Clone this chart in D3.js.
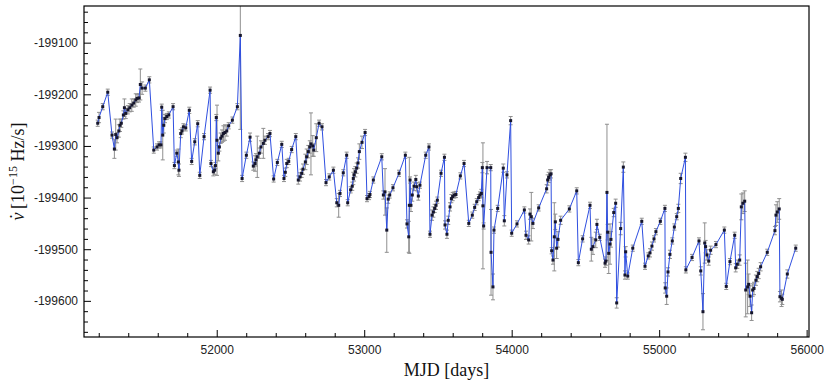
<!DOCTYPE html>
<html>
<head>
<meta charset="utf-8">
<script src="https://cdn.jsdelivr.net/npm/d3@7"></script>
<style>
    body { margin: 0; background: #fff; }
    .axis text { font-family: "Liberation Sans", Arial, sans-serif; font-size: 12px; fill: #222; }
    .axis line { stroke: #000; }
    .axis path { display: none; }
    .axis-title { font-family: "Liberation Serif", "DejaVu Serif", serif; fill: #111; }
</style>
</head>
<body>
<div id="chart"></div>
<script>

// MJD of each timing solution
var mjd = [51193,51202,51227,51261,51290,51306,51315,51324,51336,51344,51353,51367,51374,51383,51397,51410,51424,51437,51451,51460,
    51473,51482,51494,51516,51543,51573,51595,51609,51622,51627,51634,51641,51649,51661,51675,51704,51713,51729,51740,51744,
    51756,51765,51774,51790,51814,51830,51851,51871,51885,51914,51955,51961,51977,51986,51991,51997,52002,52011,52018,52027,
    52036,52045,52056,52068,52081,52106,52140,52160,52172,52201,52226,52248,52260,52266,52275,52289,52300,52316,52327,52348,
    52361,52386,52411,52441,52456,52465,52475,52488,52508,52536,52553,52565,52576,52585,52601,52610,52621,52631,52639,52651,
    52658,52675,52694,52714,52741,52763,52791,52814,52827,52836,52858,52881,52888,52908,52919,52926,52931,52940,52949,52958,
    52967,52985,53006,53019,53033,53039,53062,53119,53130,53141,53153,53163,53173,53195,53236,53279,53290,53302,53306,53311,
    53317,53326,53338,53350,53356,53367,53378,53417,53439,53446,53460,53469,53478,53487,53496,53521,53544,53548,53561,53570,
    53582,53591,53600,53611,53622,53652,53677,53709,53733,53749,53763,53776,53785,53794,53801,53805,53810,53833,53858,53860,
    53873,53880,53905,53943,53950,53968,53993,54000,54036,54086,54097,54115,54124,54133,54144,54183,54237,54244,54251,54260,
    54267,54271,54280,54289,54296,54305,54314,54332,54391,54441,54452,54481,54531,54540,54551,54570,54578,54597,54633,54639,
    54646,54651,54658,54667,54673,54692,54705,54712,54739,54757,54768,54773,54787,54821,54882,54904,54926,54938,54951,54965,
    54978,55008,55039,55041,55051,55060,55073,55089,55103,55119,55130,55146,55178,55181,55223,55270,55282,55297,55309,55315,
    55324,55336,55349,55385,55442,55455,55480,55512,55519,55530,55546,55557,55568,55580,55587,55600,55607,55616,55627,55634,
    55643,55656,55665,55675,55688,55733,55785,55792,55801,55814,55819,55830,55835,55869,55926];

// spin-down rate, 1e-15 Hz/s
var nudot = [-199256,-199245,-199224,-199196,-199279,-199306,-199278,-199284,-199271,-199260,-199256,-199240,-199226,-199237,-199230,-199226,-199221,-199217,-199211,-199208,
    -199207,-199181,-199188,-199188,-199172,-199308,-199302,-199298,-199298,-199225,-199279,-199260,-199247,-199243,-199240,-199224,-199338,-199314,-199331,-199347,
    -199276,-199271,-199263,-199265,-199231,-199330,-199292,-199257,-199357,-199282,-199192,-199334,-199350,-199347,-199338,-199245,-199289,-199314,-199302,-199285,
    -199281,-199276,-199274,-199271,-199261,-199250,-199224,-199086,-199363,-199318,-199283,-199339,-199334,-199327,-199321,-199314,-199302,-199295,-199289,-199282,
    -199276,-199364,-199332,-199297,-199363,-199351,-199334,-199330,-199307,-199282,-199366,-199360,-199353,-199345,-199331,-199321,-199311,-199302,-199296,-199300,
    -199308,-199284,-199256,-199263,-199371,-199360,-199347,-199410,-199415,-199392,-199352,-199318,-199410,-199385,-199378,-199363,-199356,-199350,-199343,-199333,
    -199311,-199293,-199274,-199402,-199398,-199394,-199366,-199321,-199395,-199389,-199463,-199403,-199395,-199381,-199353,-199318,-199451,-199476,-199415,-199366,
    -199415,-199395,-199378,-199365,-199379,-199397,-199376,-199318,-199302,-199471,-199434,-199428,-199421,-199415,-199405,-199353,-199322,-199453,-199471,-199444,
    -199418,-199402,-199398,-199395,-199394,-199358,-199334,-199450,-199434,-199419,-199408,-199400,-199395,-199392,-199342,-199416,-199455,-199342,-199342,-199506,
    -199573,-199463,-199421,-199343,-199445,-199356,-199251,-199469,-199451,-199424,-199473,-199482,-199432,-199437,-199450,-199420,-199383,-199366,-199361,-199356,
    -199354,-199503,-199521,-199476,-199447,-199498,-199481,-199444,-199422,-199387,-199526,-199480,-199415,-199500,-199495,-199482,-199452,-199477,-199527,-199523,
    -199390,-199467,-199508,-199490,-199481,-199429,-199411,-199604,-199460,-199341,-199550,-199505,-199552,-199498,-199446,-199533,-199513,-199507,-199494,-199480,
    -199466,-199446,-199421,-199575,-199591,-199544,-199510,-199484,-199457,-199437,-199421,-199363,-199322,-199540,-199516,-199484,-199542,-199621,-199488,-199495,
    -199511,-199523,-199502,-199491,-199463,-199572,-199524,-199473,-199536,-199529,-199521,-199418,-199411,-199407,-199579,-199573,-199568,-199591,-199623,-199579,
    -199576,-199560,-199553,-199547,-199534,-199506,-199464,-199434,-199428,-199422,-199592,-199595,-199597,-199548,-199498];

// 1-sigma uncertainty on nudot
var nudotErr = [6,10,6,6,6,18,30,10,12,12,8,8,17,10,8,8,12,8,12,8,
    8,30,12,6,6,6,6,6,6,6,48,15,8,6,6,6,6,6,25,12,
    8,6,6,6,6,6,6,6,6,6,6,6,8,8,6,6,68,15,8,10,
    12,15,15,10,6,6,6,182,6,6,8,8,15,12,40,10,12,29,8,6,
    6,6,6,6,6,8,8,6,6,6,8,8,8,10,15,15,12,12,60,20,
    12,27,6,6,6,6,6,8,23,6,6,6,6,6,8,12,12,10,10,10,
    15,12,6,6,6,6,6,6,8,45,43,8,6,6,6,6,8,30,93,6,
    12,12,8,8,8,8,6,6,6,6,10,10,8,8,6,6,6,8,8,8,
    8,8,8,6,6,6,6,6,6,6,6,6,6,8,10,122,6,12,6,83,
    25,6,6,8,10,6,8,6,6,6,8,8,10,47,10,6,8,10,10,10,
    8,6,8,66,15,20,15,8,6,6,6,6,6,23,15,15,10,6,8,8,
    132,15,39,39,15,8,8,10,12,10,8,10,6,6,6,6,6,8,8,6,
    6,6,6,10,16,8,8,6,6,6,8,10,8,6,6,6,8,35,39,12,
    10,8,8,6,6,6,6,6,8,8,10,25,20,20,52,52,20,20,15,12,
    12,10,10,10,8,6,8,20,20,20,10,16,10,8,6];

var xMajor = [52000, 53000, 54000, 55000, 56000];
var yMajor = [-199600, -199500, -199400, -199300, -199200, -199100];

var points = mjd.map(function(d, i) {
    return { mjd: d, nudot: nudot[i], err: nudotErr[i] };
});

var margin = { top: 6, right: 21, bottom: 44, left: 84 };
var width = 830 - margin.left - margin.right;
var height = 381 - margin.top - margin.bottom;

var svg = d3.select("#chart").append("svg")
    .attr("width", 830)
    .attr("height", 381);

var g = svg.append("g")
    .attr("transform", "translate(" + margin.left + "," + margin.top + ")");

// Scales
var x = d3.scaleLinear()
    .domain([51100, 56016])
    .range([0, width]);

var y = d3.scaleLinear()
    .domain([-199670, -199029])
    .range([height, 0]);

g.append("clipPath")
    .attr("id", "plot-clip")
    .append("rect")
    .attr("width", width)
    .attr("height", height);

var plot = g.append("g").attr("clip-path", "url(#plot-clip)");

// Error bars
var bars = plot.append("g")
    .attr("stroke", "#8f8f8f")
    .attr("stroke-width", 1);

bars.selectAll(".err")
    .data(points)
    .enter().append("line")
    .attr("x1", function(d) { return x(d.mjd); })
    .attr("x2", function(d) { return x(d.mjd); })
    .attr("y1", function(d) { return y(d.nudot + d.err); })
    .attr("y2", function(d) { return y(d.nudot - d.err); });

[-1, 1].forEach(function(s) {
    bars.selectAll(".cap" + s)
        .data(points)
        .enter().append("line")
        .attr("x1", function(d) { return x(d.mjd) - 2; })
        .attr("x2", function(d) { return x(d.mjd) + 2; })
        .attr("y1", function(d) { return y(d.nudot + s * d.err); })
        .attr("y2", function(d) { return y(d.nudot + s * d.err); });
});

// Connecting line
var line = d3.line()
    .x(function(d) { return x(d.mjd); })
    .y(function(d) { return y(d.nudot); });

plot.append("path")
    .datum(points)
    .attr("d", line)
    .attr("fill", "none")
    .attr("stroke", "#2f4fe0")
    .attr("stroke-width", 1);

// Markers
plot.selectAll(".pt")
    .data(points)
    .enter().append("rect")
    .attr("x", function(d) { return x(d.mjd) - 1.5; })
    .attr("y", function(d) { return y(d.nudot) - 1.5; })
    .attr("width", 3)
    .attr("height", 3)
    .attr("fill", "#16162c");

// Axes, ticks pointing inwards
var xMinor = d3.range(51200, 56001, 200).filter(function(v) { return v % 1000 !== 0; });
var yMinor = d3.range(-199660, -199039, 20).filter(function(v) { return v % 100 !== 0; });

g.append("g")
    .attr("class", "axis")
    .attr("transform", "translate(0," + height + ")")
    .call(d3.axisBottom(x).tickValues(xMajor).tickSize(-7).tickPadding(8)
        .tickFormat(function(d) { return String(d); }));

g.append("g")
    .attr("class", "axis")
    .attr("transform", "translate(0," + height + ")")
    .call(d3.axisBottom(x).tickValues(xMinor).tickSize(-4).tickFormat(""));

g.append("g")
    .attr("class", "axis")
    .call(d3.axisLeft(y).tickValues(yMajor).tickSize(-7).tickPadding(6)
        .tickFormat(function(d) { return String(d); }));

g.append("g")
    .attr("class", "axis")
    .call(d3.axisLeft(y).tickValues(yMinor).tickSize(-4).tickFormat(""));

// Frame
g.append("rect")
    .attr("width", width)
    .attr("height", height)
    .attr("fill", "none")
    .attr("stroke", "#000")
    .attr("stroke-width", 1.2);

// Axis titles
g.append("text")
    .attr("class", "axis-title")
    .attr("x", width / 2)
    .attr("y", height + 39)
    .attr("text-anchor", "middle")
    .style("font-size", "18px")
    .text("MJD [days]");

var yTitle = g.append("text")
    .attr("class", "axis-title")
    .attr("transform", "translate(-60," + (height / 2) + ") rotate(-90)")
    .attr("text-anchor", "middle")
    .style("font-size", "18px");

// nu with a dot above it (drawn as a separate spacing dot)
yTitle.append("tspan").style("font-style", "italic").text("\u03BD");
yTitle.append("tspan").attr("dx", -7).attr("dy", -1).text("\u02D9");
yTitle.append("tspan").attr("dy", 1).text(" [10");
yTitle.append("tspan").attr("dy", -7).style("font-size", "12px").text("\u221215");
yTitle.append("tspan").attr("dy", 7).text(" Hz/s]");

</script>
</body>
</html>
